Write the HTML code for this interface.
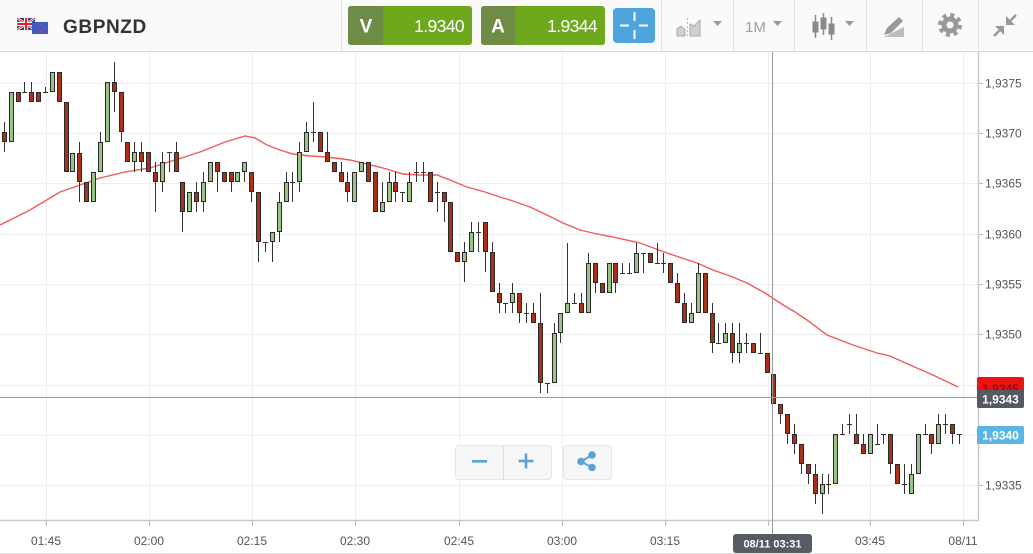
<!DOCTYPE html>
<html><head><meta charset="utf-8"><title>GBPNZD</title>
<style>
html,body{margin:0;padding:0;background:#fff;}
body{width:1033px;height:554px;overflow:hidden;font-family:"Liberation Sans",Arial,sans-serif;}
svg{display:block;}
</style></head><body>
<svg width="1033" height="554" viewBox="0 0 1033 554" xmlns="http://www.w3.org/2000/svg" font-family="Liberation Sans, Arial, sans-serif">
<!-- backgrounds -->
<rect x="0" y="0" width="1033" height="554" fill="#ffffff"/>
<rect x="0" y="0" width="1033" height="52" fill="#fafafa"/>
<line x1="0" y1="51.5" x2="1033" y2="51.5" stroke="#d8d8d8"/>
<!-- header separators -->
<g stroke="#e2e2e2">
<line x1="341.5" y1="0" x2="341.5" y2="51"/>
<line x1="661.5" y1="0" x2="661.5" y2="51"/>
<line x1="733.5" y1="0" x2="733.5" y2="51"/>
<line x1="794.5" y1="0" x2="794.5" y2="51"/>
<line x1="866.5" y1="0" x2="866.5" y2="51"/>
<line x1="922.5" y1="0" x2="922.5" y2="51"/>
<line x1="978.5" y1="0" x2="978.5" y2="51"/>
</g>
<!-- flags -->
<rect x="17" y="18" width="18" height="12" fill="#2a3f8f"/>
<path d="M17 18L35 30M35 18L17 30" stroke="#fff" stroke-width="2.5"/>
<path d="M17 18L35 30M35 18L17 30" stroke="#d22" stroke-width="1"/>
<path d="M26 18V30M17 24H35" stroke="#fff" stroke-width="4"/>
<path d="M26 18V30M17 24H35" stroke="#d22" stroke-width="2"/>
<rect x="32" y="22" width="16" height="12" fill="#3b5cc4"/>
<circle cx="41" cy="25" r="1" fill="#e33"/><circle cx="44" cy="28" r="1" fill="#e33"/><circle cx="39" cy="30" r="1" fill="#e33"/><circle cx="42" cy="32" r="1" fill="#e33"/>
<text x="63" y="33" font-size="19" font-weight="bold" fill="#333" letter-spacing="0.6">GBPNZD</text>
<!-- V box -->
<rect x="348" y="6" width="124" height="39" rx="3" fill="#6ea91d"/>
<path d="M351 6H383V45H351A3 3 0 0 1 348 42V9A3 3 0 0 1 351 6Z" fill="#6f8c47"/>
<text x="366" y="32.5" font-size="19" font-weight="bold" fill="#fff" text-anchor="middle">V</text>
<text x="464" y="32" font-size="17.5" fill="#fff" text-anchor="end" letter-spacing="-0.6">1.9340</text>
<!-- A box -->
<rect x="481" y="6" width="124" height="39" rx="3" fill="#6ea91d"/>
<path d="M484 6H515V45H484A3 3 0 0 1 481 42V9A3 3 0 0 1 484 6Z" fill="#6f8c47"/>
<text x="498" y="32.5" font-size="19" font-weight="bold" fill="#fff" text-anchor="middle">A</text>
<text x="597" y="32" font-size="17.5" fill="#fff" text-anchor="end" letter-spacing="-0.6">1.9344</text>
<!-- blue button -->
<rect x="613" y="8" width="42" height="35" rx="4" fill="#4ea5de"/>
<path d="M620 25.5H629M639 25.5H648M634.5 12V21M634.5 30V39" stroke="#fff" stroke-width="2"/>
<!-- line chart icon -->
<path d="M677 36V29L681 26L685 30V36Z" fill="#d0d0d0" stroke="#aaa" stroke-width="1"/>
<path d="M690 36V24L694 26L700 20V36Z" fill="#d0d0d0" stroke="#aaa" stroke-width="1"/>
<path d="M687.5 18V38" stroke="#bbb" stroke-width="1" stroke-dasharray="2 2"/>
<path d="M713 21H722L717.5 26Z" fill="#999"/>
<text x="745" y="32" font-size="15" fill="#a0a0a0">1M</text>
<path d="M773 21H782L777.5 26Z" fill="#999"/>
<!-- candle icon -->
<g fill="#8a8a8a" stroke="#8a8a8a">
<path d="M815.5 15V38M823.5 13V35M831.5 17V40" stroke-width="1.5"/>
<rect x="813" y="22" width="5" height="10"/>
<rect x="821" y="18" width="5" height="11"/>
<rect x="829" y="24" width="5" height="10"/>
</g>
<path d="M845 21H854L849.5 26Z" fill="#999"/>
<!-- pencil icon -->
<path d="M884 35L887 28L899 17L903 21L891 33Z" fill="#999"/>
<path d="M884 37H904V27Z" fill="#bbb"/>
<!-- gear -->
<circle cx="950" cy="25" r="10" fill="none" stroke="#999" stroke-width="4" stroke-dasharray="4 3.85"/>
<circle cx="950" cy="25" r="8.5" fill="#999"/>
<circle cx="950" cy="25" r="3.5" fill="#fafafa"/>
<!-- compress -->
<g stroke="#999" stroke-width="2.5" fill="#999">
<path d="M1016 15L1009 22" />
<path d="M994 36L1001 29"/>
</g>
<path d="M1006 16V25H1015Z" fill="#999"/>
<path d="M995 26H1004V35Z" fill="#999"/>

<!-- grid -->
<g stroke="#eeeeee" stroke-width="1">
<path d="M0 83.5H978M0 133.5H978M0 183.5H978M0 234.5H978M0 284.5H978M0 334.5H978M0 385.5H978M0 435.5H978M0 485.5H978"/>
<path d="M46.5 52V520M149.5 52V520M252.5 52V520M355.5 52V520M459.5 52V520M562.5 52V520M665.5 52V520M768.5 52V520M870.5 52V520M963.5 52V520"/>
</g>
<!-- axes -->
<path d="M978.5 52V521M0 520.5H979" stroke="#c8c8c8" stroke-width="1.5" fill="none"/>
<g stroke="#bbb">
<path d="M979 83.5H983M979 133.5H983M979 183.5H983M979 234.5H983M979 284.5H983M979 334.5H983M979 385.5H983M979 435.5H983M979 485.5H983"/>
<path d="M46.5 521V526M149.5 521V526M252.5 521V526M355.5 521V526M459.5 521V526M562.5 521V526M665.5 521V526M768.5 521V526M870.5 521V526M963.5 521V526"/>
</g>
<g font-size="12" fill="#555">
<text x="985" y="87.5">1,9375</text>
<text x="985" y="137.5">1,9370</text>
<text x="985" y="187.5">1,9365</text>
<text x="985" y="238.5">1,9360</text>
<text x="985" y="288.5">1,9355</text>
<text x="985" y="338.5">1,9350</text>
<text x="985" y="489.5">1,9335</text>
</g>
<g font-size="12" fill="#555" text-anchor="middle">
<text x="46" y="545">01:45</text>
<text x="149" y="545">02:00</text>
<text x="252" y="545">02:15</text>
<text x="355" y="545">02:30</text>
<text x="459" y="545">02:45</text>
<text x="562" y="545">03:00</text>
<text x="665" y="545">03:15</text>
<text x="870" y="545">03:45</text>
<text x="963" y="545">08/11</text>
</g>
<line x1="0" y1="553.5" x2="1033" y2="553.5" stroke="#e2e2e2"/>

<!-- moving average -->
<polyline fill="none" stroke="#f05a5a" stroke-width="1.4" points="0,225 30,210 60,192 80,185 100,178 125,172 150,168 175,160 200,152 225,142 245,136 255,138 267,145 280,150 293,154 310,156 327,157 350,160 383,168 403,174 420,175 437,175 450,180 467,187 485,192 500,197 510,200 530,207 547,215 563,223 580,230 597,234 613,237 640,243 667,253 697,263 713,270 730,276 747,283 765,293 780,303 795,312 807,320 827,335 853,345 877,353 890,356 910,365 933,375 958,387"/>

<!-- wicks -->
<path fill="none" stroke="#333" stroke-width="1" d="M4.5 122V152M24.5 82V92M31.5 82V102M45.5 87V92M79.5 142V202M100.5 132V172M114.5 62V112M121.5 92V142M134.5 142V172M141.5 142V172M155.5 162V212M162.5 152V192M169.5 152V172M176.5 142V172M182.5 182V232M196.5 182V212M203.5 172V212M217.5 162V192M231.5 172V192M244.5 162V182M251.5 172V202M258.5 192V262M265.5 242V252M272.5 232V262M279.5 192V242M286.5 172V202M292.5 172V202M299.5 142V192M306.5 122V152M313.5 102V142M327.5 132V162M341.5 162V182M347.5 172V202M382.5 182V212M389.5 172V202M395.5 172V202M402.5 192V202M409.5 172V202M416.5 162V182M423.5 162V182M437.5 182V212M444.5 192V222M464.5 242V282M471.5 222V252M478.5 222V252M485.5 222V272M492.5 242V292M499.5 283V313M505.5 303V313M512.5 283V313M519.5 293V323M526.5 303V323M533.5 303V323M540.5 293V393M547.5 383V393M554.5 323V383M560.5 313V343M567.5 243V313M574.5 293V303M581.5 293V313M588.5 253V313M595.5 263V293M615.5 263V293M622.5 263V273M629.5 263V273M636.5 243V273M643.5 253V273M657.5 243V263M663.5 253V273M677.5 273V303M684.5 293V323M691.5 303V323M698.5 263V313M712.5 303V353M718.5 323V343M725.5 323V343M732.5 323V363M739.5 323V363M746.5 333V353M760.5 333V353M780.5 404V424M787.5 414V444M794.5 424V454M801.5 444V474M808.5 464V484M815.5 464V504M822.5 474V514M828.5 474V494M842.5 424V434M849.5 414V434M856.5 414V444M863.5 434V454M877.5 424V444M883.5 434V444M890.5 434V474M904.5 464V494M911.5 464V494M925.5 424V434M931.5 434V454M938.5 414V444M945.5 414V434M952.5 424V444M959.5 434V444"/>
<!-- doji -->
<path fill="none" stroke="#333" stroke-width="1" d="M22 92.5h5M43 92.5h5M167 152.5h5M263 242.5h5M290 182.5h5M311 132.5h5M400 192.5h5M414 172.5h5M421 172.5h5M435 192.5h5M476 232.5h5M503 303.5h5M524 313.5h5M545 383.5h5M572 303.5h5M620 273.5h5M627 273.5h5M641 253.5h5M655 263.5h5M661 263.5h5M716 343.5h5M744 343.5h5M758 353.5h5M826 484.5h5M840 434.5h5M847 424.5h5M875 444.5h5M881 434.5h5M902 484.5h5M923 434.5h5M943 424.5h5M957 434.5h5"/>
<!-- red bodies -->
<path fill="#a83016" stroke="#2a2a2a" stroke-width="1" d="M2.5 132.5h4v9h-4zM16.5 92.5h4v9h-4zM29.5 92.5h4v9h-4zM36.5 92.5h4v9h-4zM57.5 72.5h4v29h-4zM64.5 102.5h4v69h-4zM77.5 153.5h4v28h-4zM84.5 182.5h4v19h-4zM112.5 82.5h4v9h-4zM119.5 92.5h4v39h-4zM125.5 142.5h4v19h-4zM139.5 152.5h4v9h-4zM146.5 152.5h4v19h-4zM153.5 172.5h4v9h-4zM174.5 152.5h4v19h-4zM180.5 182.5h4v29h-4zM194.5 192.5h4v9h-4zM215.5 162.5h4v9h-4zM222.5 172.5h4v9h-4zM229.5 172.5h4v9h-4zM249.5 172.5h4v19h-4zM256.5 192.5h4v49h-4zM318.5 132.5h4v19h-4zM325.5 152.5h4v9h-4zM332.5 162.5h4v9h-4zM339.5 172.5h4v9h-4zM345.5 182.5h4v9h-4zM366.5 162.5h4v19h-4zM373.5 172.5h4v39h-4zM393.5 182.5h4v9h-4zM428.5 172.5h4v29h-4zM442.5 192.5h4v9h-4zM448.5 202.5h4v49h-4zM455.5 252.5h4v9h-4zM483.5 222.5h4v29h-4zM490.5 252.5h4v39h-4zM497.5 293.5h4v9h-4zM517.5 293.5h4v19h-4zM531.5 313.5h4v9h-4zM538.5 323.5h4v59h-4zM579.5 303.5h4v9h-4zM593.5 263.5h4v19h-4zM600.5 283.5h4v9h-4zM613.5 263.5h4v19h-4zM648.5 253.5h4v9h-4zM668.5 263.5h4v19h-4zM675.5 283.5h4v19h-4zM682.5 303.5h4v19h-4zM703.5 273.5h4v39h-4zM710.5 313.5h4v29h-4zM730.5 333.5h4v19h-4zM751.5 343.5h4v9h-4zM765.5 353.5h4v19h-4zM771.5 374.5h4v29h-4zM778.5 404.5h4v9h-4zM785.5 414.5h4v19h-4zM792.5 434.5h4v9h-4zM799.5 444.5h4v19h-4zM806.5 464.5h4v9h-4zM813.5 474.5h4v19h-4zM854.5 434.5h4v9h-4zM861.5 444.5h4v9h-4zM888.5 434.5h4v29h-4zM895.5 464.5h4v19h-4zM929.5 434.5h4v9h-4zM950.5 424.5h4v9h-4z"/>
<!-- green bodies -->
<path fill="#98c585" stroke="#2a2a2a" stroke-width="1" d="M-4.5 132.5h4v19h-4zM9.5 92.5h4v49h-4zM50.5 72.5h4v19h-4zM70.5 153.5h4v18h-4zM91.5 172.5h4v29h-4zM98.5 142.5h4v29h-4zM105.5 82.5h4v59h-4zM132.5 152.5h4v9h-4zM160.5 162.5h4v19h-4zM187.5 192.5h4v19h-4zM201.5 182.5h4v19h-4zM208.5 162.5h4v19h-4zM235.5 172.5h4v9h-4zM242.5 162.5h4v9h-4zM270.5 232.5h4v9h-4zM277.5 202.5h4v29h-4zM284.5 182.5h4v19h-4zM297.5 152.5h4v29h-4zM304.5 132.5h4v19h-4zM352.5 172.5h4v29h-4zM359.5 162.5h4v9h-4zM380.5 202.5h4v9h-4zM387.5 182.5h4v19h-4zM407.5 182.5h4v19h-4zM462.5 252.5h4v9h-4zM469.5 232.5h4v19h-4zM510.5 293.5h4v9h-4zM552.5 333.5h4v49h-4zM558.5 313.5h4v19h-4zM565.5 303.5h4v9h-4zM586.5 263.5h4v49h-4zM607.5 263.5h4v29h-4zM634.5 253.5h4v19h-4zM689.5 313.5h4v9h-4zM696.5 273.5h4v39h-4zM723.5 333.5h4v9h-4zM737.5 343.5h4v9h-4zM820.5 484.5h4v9h-4zM833.5 434.5h4v49h-4zM868.5 434.5h4v19h-4zM909.5 474.5h4v19h-4zM916.5 434.5h4v39h-4zM936.5 424.5h4v19h-4z"/>

<!-- crosshair -->
<path d="M772.5 52V534M0 397.5H978" stroke="#9a9a9a" stroke-width="1" fill="none"/>

<!-- price labels -->
<rect x="977" y="377" width="47" height="18" rx="2" fill="#ee1313"/>
<text x="1000.5" y="393" font-size="12" font-weight="bold" fill="#8a1010" text-anchor="middle">1,9345</text>
<rect x="977" y="390" width="47" height="18" rx="2" fill="#555963"/>
<text x="1000.5" y="403.5" font-size="12" font-weight="bold" fill="#fff" text-anchor="middle">1,9343</text>
<rect x="977" y="426" width="47" height="18" rx="2" fill="#58b5e6"/>
<text x="1000.5" y="439.5" font-size="12" font-weight="bold" fill="#fff" text-anchor="middle">1,9340</text>

<!-- time label -->
<rect x="733" y="534" width="79" height="19" rx="3" fill="#565b66"/>
<text x="772.5" y="547.5" font-size="11" font-weight="bold" fill="#fff" text-anchor="middle">08/11 03:31</text>

<!-- zoom controls -->
<rect x="455.5" y="445.5" width="96" height="34" rx="3" fill="#f6f6f6" stroke="#e6e6e6"/>
<line x1="503.5" y1="446" x2="503.5" y2="479" stroke="#dcdcdc"/>
<rect x="472" y="460" width="15" height="2.6" fill="#5da2d6"/>
<rect x="518.5" y="459.7" width="15" height="2.6" fill="#5da2d6"/>
<rect x="524.7" y="453.5" width="2.6" height="15" fill="#5da2d6"/>
<rect x="563.5" y="445.5" width="48" height="34" rx="3" fill="#f6f6f6" stroke="#e6e6e6"/>
<path d="M592 455L581 461.5L592 467.5" stroke="#5da2d6" stroke-width="2" fill="none"/>
<circle cx="592" cy="455" r="3.8" fill="#5da2d6"/>
<circle cx="581" cy="461.5" r="3.8" fill="#5da2d6"/>
<circle cx="592" cy="467.5" r="3.8" fill="#5da2d6"/>
</svg>
</body></html>
